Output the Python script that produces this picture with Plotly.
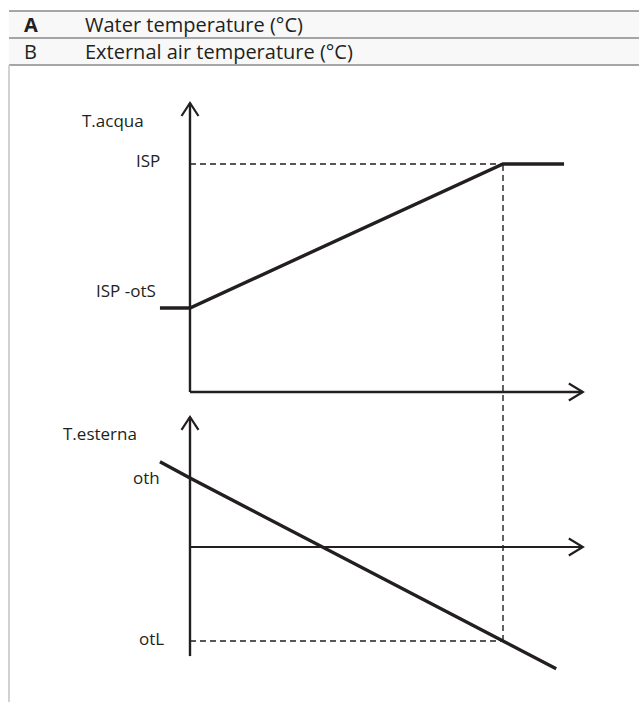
import plotly.graph_objects as go

W, H = 639, 702
INK = "#231f20"
FONT = "Open Sans"

# --- diagram data -----------------------------------------------------------
# shared time axis; T.esterna falls steadily, T.acqua follows the compensation curve
time_ext = [-0.96, 0, 10, 11.7]
t_ext = [13.6, 11, -15, -19.4]
time_water = [-0.96, 0, 10, 11.95]
t_water = [20, 20, 35, 35]

ISP = 35
ISP_otS = 20
oth = 11
otL = -15
t_break = 10

header_keys = ["A", "B"]
header_text = ["Water temperature (°C)", "External air temperature (°C)"]
water_ticks = ["ISP", "ISP -otS"]
ext_ticks = ["oth", "otL"]
axis_titles = ["T.acqua", "T.esterna"]

# --- axis geometry ----------------------------------------------------------
X_RANGE = [-6.07, 14.345]
YW_RANGE = [-21.04, 52.08]     # water temperature scale (upper panel)
YE_RANGE = [-24.72, 87.24]     # external temperature scale (lower panel)
AX_END = 12.55                 # where the time arrows end
W_AXIS = [11.25, 41.35]        # upper vertical axis extent
E_AXIS = [-17.4, 20.75]        # lower vertical axis extent

XS = W / (X_RANGE[1] - X_RANGE[0])
WS = H / (YW_RANGE[1] - YW_RANGE[0])
ES = H / (YE_RANGE[1] - YE_RANGE[0])


def w_to_px(v):
    return (YW_RANGE[1] - v) * WS


def px_to_e(p):
    return YE_RANGE[1] - p / ES


fig = go.Figure()


def seg(xs, ys, yaxis="y", width=2.2, dash="solid"):
    fig.add_trace(go.Scatter(
        x=xs, y=ys, yaxis=yaxis, mode="lines",
        line=dict(color=INK, width=width, dash=dash),
        hoverinfo="skip", showlegend=False, cliponaxis=False))


def arrow_up(x, ytip, yaxis, scale):
    a, b = 13 / scale, 8.5 / XS
    seg([x - b, x, x + b], [ytip - a, ytip, ytip - a], yaxis, 2.2)


def arrow_right(xtip, y, yaxis, scale):
    a, b = 14 / XS, 8.5 / scale
    seg([xtip - a, xtip, xtip - a], [y + b, y, y - b], yaxis, 2.2)


# upper panel axes
seg([0, 0], W_AXIS, "y", 2.4)
seg([0, AX_END], [W_AXIS[0], W_AXIS[0]], "y", 2.4)
arrow_up(0, W_AXIS[1], "y", WS)
arrow_right(AX_END, W_AXIS[0], "y", WS)

# lower panel axes
seg([0, 0], E_AXIS, "y2", 2.4)
seg([0, AX_END], [0, 0], "y2", 1.8)
arrow_up(0, E_AXIS[1], "y2", ES)
arrow_right(AX_END, 0, "y2", ES)

# dashed reference lines
DASH = "6px,4px"
seg([0, t_break], [ISP, ISP], "y", 1.4, DASH)
seg([0, t_break], [otL, otL], "y2", 1.4, DASH)
seg([t_break, t_break], [otL, px_to_e(w_to_px(ISP))], "y2", 1.4, DASH)

# curves
seg(time_water, t_water, "y", 3.4)
seg(time_ext, t_ext, "y2", 3.4)

# axis labels
lab = dict(showarrow=False, xanchor="right", yanchor="middle",
           font=dict(family=FONT, size=17, color=INK))
fig.add_annotation(x=0, y=ISP, yref="y", text=water_ticks[0], xshift=-28, yshift=3, **lab)
fig.add_annotation(x=0, y=ISP_otS, yref="y", text=water_ticks[1], xshift=-32, yshift=17, **lab)
fig.add_annotation(x=0, y=oth, yref="y2", text=ext_ticks[0], xshift=-28, yshift=1, **lab)
fig.add_annotation(x=0, y=otL, yref="y2", text=ext_ticks[1], xshift=-24, yshift=3, **lab)
fig.add_annotation(x=0, y=W_AXIS[1], yref="y", text=axis_titles[0], xshift=-44, yshift=-17, **lab)
fig.add_annotation(x=0, y=E_AXIS[1], yref="y2", text=axis_titles[1], xshift=-51, yshift=-17, **lab)


# --- header table -----------------------------------------------------------
def px(x):
    return x / W


def py(y):
    return 1 - y / H


rows = [(11, 38), (38, 65)]
for top, bot in rows:
    fig.add_shape(type="rect", xref="paper", yref="paper",
                  x0=px(9), x1=px(W), y0=py(bot), y1=py(top),
                  fillcolor="#f8f8f8", line=dict(width=0), layer="below")
for yl in (11, 38, 65):
    fig.add_shape(type="line", xref="paper", yref="paper",
                  x0=px(9), x1=px(W), y0=py(yl), y1=py(yl),
                  line=dict(color="#8a8a8a", width=1.5))
fig.add_shape(type="line", xref="paper", yref="paper",
              x0=px(9), x1=px(9), y0=py(65), y1=py(H),
              line=dict(color="#d2d2d2", width=2))

for i, (top, bot) in enumerate(rows):
    yc = py((top + bot) / 2)
    fig.add_annotation(xref="paper", yref="paper", x=px(22), y=yc,
                       text=f"<b>{header_keys[i]}</b>" if i == 0 else header_keys[i],
                       showarrow=False, xanchor="left", yanchor="middle",
                       font=dict(family=FONT, size=20, color=INK))
    fig.add_annotation(xref="paper", yref="paper", x=px(83), y=yc,
                       text=header_text[i], showarrow=False,
                       xanchor="left", yanchor="middle",
                       font=dict(family=FONT, size=20, color=INK))

fig.update_layout(
    width=W, height=H, autosize=False,
    margin=dict(l=0, r=0, t=0, b=0, pad=0),
    paper_bgcolor="white", plot_bgcolor="white",
    showlegend=False,
    xaxis=dict(range=X_RANGE, visible=False, fixedrange=True),
    yaxis=dict(range=YW_RANGE, visible=False, fixedrange=True, domain=[0, 1]),
    yaxis2=dict(range=YE_RANGE, visible=False, fixedrange=True,
                overlaying="y", domain=[0, 1]),
)

fig.write_html("out.html", config={"displayModeBar": False})
